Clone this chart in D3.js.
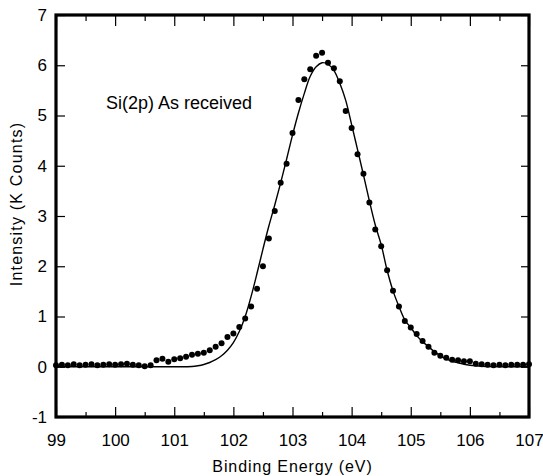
<!DOCTYPE html>
<html>
<head>
<meta charset="utf-8">
<script src="https://cdn.jsdelivr.net/npm/d3@7"></script>
<style>
  body { margin: 0; background: #fff; }
  svg { display: block; font-family: "Liberation Sans", Arial, sans-serif; }
</style>
</head>
<body>
<div id="chart"></div>
<script>
// Si(2p) XPS spectrum, as received: measured dots + fitted curve

const xTicks = [99, 100, 101, 102, 103, 104, 105, 106, 107];
const xHalfTicks = [99.5, 100.5, 101.5, 102.5, 103.5, 104.5, 105.5, 106.5];
const yTicks = [-1, 0, 1, 2, 3, 4, 5, 6, 7];

// measured points (binding energy eV, K counts)
const dotEnergy = [
  99.0, 99.1, 99.2, 99.3, 99.4, 99.5, 99.6, 99.7, 99.8, 99.9,
  100.0, 100.1, 100.2, 100.3, 100.4, 100.5, 100.6, 100.7, 100.8, 100.9,
  101.0, 101.1, 101.2, 101.3, 101.4, 101.5, 101.6, 101.7, 101.8, 101.9,
  102.0, 102.1, 102.2, 102.3, 102.4, 102.5, 102.6, 102.7, 102.8, 102.9,
  103.0, 103.1, 103.2, 103.3, 103.4, 103.5, 103.6, 103.7, 103.8, 103.9,
  104.0, 104.1, 104.2, 104.3, 104.4, 104.5, 104.6, 104.7, 104.8, 104.9,
  105.0, 105.1, 105.2, 105.3, 105.4, 105.5, 105.6, 105.7, 105.8, 105.9,
  106.0, 106.1, 106.2, 106.3, 106.4, 106.5, 106.6, 106.7, 106.8, 106.9,
  107.0
];
const dotCounts = [
  0.03, 0.04, 0.03, 0.05, 0.03, 0.04, 0.05, 0.03, 0.04, 0.05,
  0.04, 0.05, 0.06, 0.04, 0.03, 0.01, 0.03, 0.13, 0.16, 0.10,
  0.15, 0.17, 0.20, 0.24, 0.26, 0.28, 0.33, 0.40, 0.47, 0.59,
  0.66, 0.79, 0.96, 1.20, 1.55, 2.00, 2.55, 3.10, 3.66, 4.04,
  4.65, 5.31, 5.72, 5.92, 6.19, 6.25, 6.05, 5.94, 5.68, 5.09,
  4.75, 4.23, 3.84, 3.27, 2.73, 2.40, 1.92, 1.51, 1.20, 0.91,
  0.78, 0.65, 0.51, 0.40, 0.28, 0.22, 0.18, 0.14, 0.13, 0.11,
  0.11, 0.06, 0.05, 0.04, 0.03, 0.04, 0.03, 0.04, 0.04, 0.04,
  0.05
];

// fitted line
const fitEnergy = [
  99.0, 100.0, 101.0, 101.3, 101.4, 101.5, 101.6, 101.7, 101.8, 101.9,
  102.0, 102.1, 102.2, 102.3, 102.4, 102.5, 102.6, 102.7, 102.8, 102.9,
  103.0, 103.1, 103.2, 103.3, 103.4, 103.5, 103.6, 103.7, 103.8, 103.9,
  104.0, 104.1, 104.2, 104.3, 104.4, 104.5, 104.6, 104.7, 104.8, 104.9,
  105.0, 105.1, 105.2, 105.3, 105.4, 105.5, 105.6, 105.7, 105.8, 105.9,
  106.0, 106.2, 107.0
];
const fitCounts = [
  0, 0, 0, 0.005, 0.02, 0.045, 0.085, 0.14, 0.22, 0.33,
  0.48, 0.7, 1.0, 1.4, 1.86, 2.34, 2.8, 3.22, 3.66, 4.13,
  4.61, 5.05, 5.44, 5.78, 5.97, 6.05, 6.02, 5.9, 5.64, 5.3,
  4.82, 4.32, 3.82, 3.3, 2.82, 2.43, 1.92, 1.51, 1.2, 0.93,
  0.78, 0.62, 0.5, 0.4, 0.3, 0.22, 0.15, 0.11, 0.08, 0.05,
  0.03, 0.01, 0
];

const width = 543, height = 476;

const svg = d3.select('#chart').append('svg')
  .attr('width', width)
  .attr('height', height);

const x = d3.scaleLinear().domain([99, 107]).range([56, 529]);
const y = d3.scaleLinear().domain([-1, 7]).range([417, 15]);

// axes: ticks point inward, frame drawn separately
function tidy(g) {
  g.select('.domain').remove();
  g.selectAll('line').attr('stroke', '#000').attr('stroke-width', 1.2);
  g.selectAll('text').attr('fill', '#000').style('font-size', '17px')
    .style('font-family', '"Liberation Sans", Arial, sans-serif');
}

const plain = d => String(d);

svg.append('g')
  .attr('transform', `translate(0,${y(-1)})`)
  .call(d3.axisBottom(x).tickValues(xTicks).tickSize(-10).tickPadding(17).tickFormat(plain))
  .call(tidy);

svg.append('g')
  .attr('transform', `translate(0,${y(-1)})`)
  .call(d3.axisBottom(x).tickValues(xHalfTicks).tickSize(-5).tickFormat(''))
  .call(tidy);

svg.append('g')
  .attr('transform', `translate(0,${y(7)})`)
  .call(d3.axisTop(x).tickValues(xTicks).tickSize(-11).tickFormat(''))
  .call(tidy);

svg.append('g')
  .attr('transform', `translate(0,${y(7)})`)
  .call(d3.axisTop(x).tickValues(xHalfTicks).tickSize(-6).tickFormat(''))
  .call(tidy);

svg.append('g')
  .attr('transform', `translate(${x(99)},0)`)
  .call(d3.axisLeft(y).tickValues(yTicks).tickSize(-9).tickPadding(9).tickFormat(plain))
  .call(tidy);

svg.append('g')
  .attr('transform', `translate(${x(107)},0)`)
  .call(d3.axisRight(y).tickValues(yTicks).tickSize(-8).tickFormat(''))
  .call(tidy);

// heavy frame
svg.append('rect')
  .attr('x', x(99))
  .attr('y', y(7))
  .attr('width', x(107) - x(99))
  .attr('height', y(-1) - y(7))
  .attr('fill', 'none')
  .attr('stroke', '#000')
  .attr('stroke-width', 3.2);

// fitted curve
const line = d3.line()
  .x(d => x(d[0]))
  .y(d => y(d[1]))
  .curve(d3.curveCatmullRom);

svg.append('path')
  .datum(fitEnergy.map((e, i) => [e, fitCounts[i]]))
  .attr('d', line)
  .attr('fill', 'none')
  .attr('stroke', '#000')
  .attr('stroke-width', 1.4);

// measured dots
svg.append('g')
  .selectAll('circle')
  .data(dotEnergy.map((e, i) => [e, dotCounts[i]]))
  .join('circle')
  .attr('cx', d => x(d[0]))
  .attr('cy', d => y(d[1]))
  .attr('r', 3)
  .attr('fill', '#000');

// labels
svg.append('text')
  .attr('x', 106)
  .attr('y', 109)
  .attr('font-size', '18px')
  .text('Si(2p) As received');

svg.append('text')
  .attr('x', (x(99) + x(107)) / 2)
  .attr('y', 472)
  .attr('text-anchor', 'middle')
  .attr('font-size', '16px')
  .attr('letter-spacing', '0.9px')
  .text('Binding Energy (eV)');

svg.append('text')
  .attr('transform', `translate(22,${(y(-1) + y(7)) / 2 - 12}) rotate(-90)`)
  .attr('text-anchor', 'middle')
  .attr('font-size', '16px')
  .attr('letter-spacing', '1.2px')
  .text('Intensity (K Counts)');
</script>
</body>
</html>
